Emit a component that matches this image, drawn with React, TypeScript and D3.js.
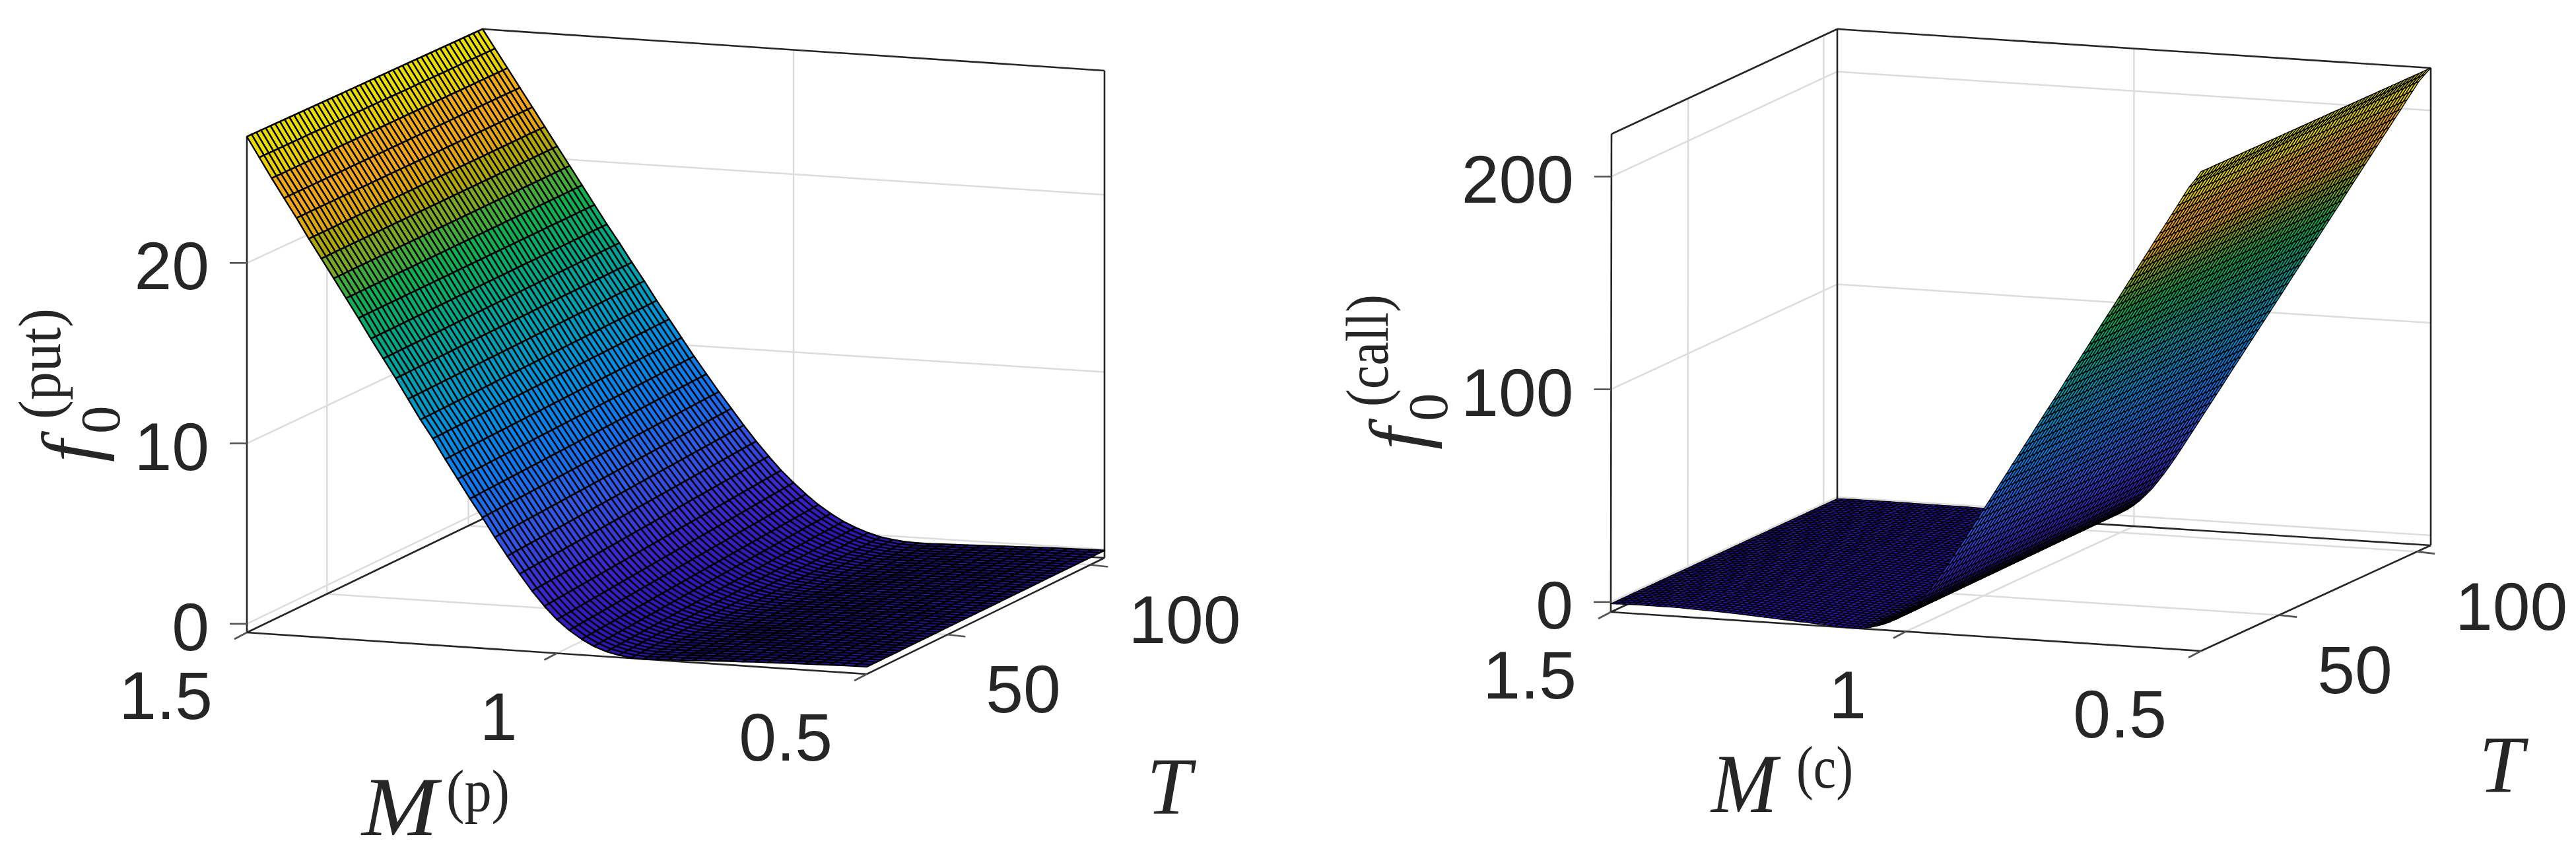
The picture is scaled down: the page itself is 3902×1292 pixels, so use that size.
import React from "react"
import * as d3 from "d3"

// values read off the two edges of each surface that can be seen: the row at the
// near end of T and the row at the far end, one number per M grid line, M going 1.5 -> 0.5
const putNear = [
  27, 25.9, 24.8, 23.75, 22.7, 21.6, 20.55, 19.5, 18.45, 17.4,
  16.3, 15.25, 14.2, 13.1, 12, 11, 9.9, 8.85, 7.8, 6.8,
  5.75, 4.75, 3.8, 2.9, 2.1, 1.4, 0.85, 0.4, 0.05, -0.2,
  -0.35, -0.45, -0.48, -0.45, -0.42, -0.4, -0.36, -0.33, -0.3, -0.27,
  -0.25, -0.22, -0.2, -0.18, -0.16, -0.14, -0.12, -0.1, -0.09, -0.08, -0.07,
]
const putFar = [
  27, 25.95, 24.9, 23.85, 22.8, 21.75, 20.7, 19.65, 18.6, 17.55,
  16.5, 15.5, 14.45, 13.45, 12.4, 11.4, 10.4, 9.4, 8.45, 7.5,
  6.6, 5.7, 4.85, 4.05, 3.3, 2.65, 2.05, 1.5, 1.05, 0.65,
  0.35, 0.1, -0.1, -0.2, -0.28, -0.3, -0.3, -0.28, -0.26, -0.24,
  -0.22, -0.2, -0.18, -0.16, -0.14, -0.12, -0.1, -0.09, -0.08, -0.07, -0.06,
]
const callNear = [
  -0.8, -0.7, -0.6, -0.6, -0.5, -0.5, -0.5, -0.5, -0.5, -0.5,
  -0.5, -0.5, -0.6, -0.7, -0.8, -0.9, -1, -1.1, -1.2, -1.3,
  -1.4, -1.6, -1.7, -1.9, -2, -2.2, -2.4, -2.5, -2.7, -2.9,
  -3, -3.2, -3.4, -3.5, -3.7, -3.9, -4, -4.2, -4.3, -4.5,
  -4.6, -4.7, -4.6, -4.3, -3.8, -3.1, -2.2, -1.1, 0.3, 2,
  4, 6.3, 9, 12, 15.5, 19.3, 23.4, 27.6, 32, 36.4,
  40.8, 45.3, 49.8, 54.3, 58.8, 63.3, 67.8, 72.3, 76.9, 81.4,
  85.9, 90.4, 95, 99.5, 104, 108.5, 113, 117.6, 122.1, 126.6,
  131.1, 135.6, 140.2, 144.7, 149.2, 153.7, 158.2, 162.8, 167.3, 171.8,
  176.3, 180.8, 185.4, 189.9, 194.4, 198.9, 203.4, 208, 212.5, 216, 220,
]
const callFar = [
  -0.8, -0.7, -0.7, -0.6, -0.6, -0.6, -0.6, -0.6, -0.6, -0.6,
  -0.6, -0.6, -0.6, -0.7, -0.7, -0.7, -0.7, -0.7, -0.7, -0.7,
  -0.7, -0.7, -0.7, -0.8, -0.8, -0.8, -0.8, -0.9, -0.9, -0.9,
  -1, -1, -1.1, -1.2, -1.2, -1.3, -1.4, -1.4, -1.5, -1.6,
  -1.6, -1.6, -1.5, -1.4, -1.1, -0.8, -0.3, 0.5, 1.6, 3.2,
  5.2, 7.6, 10.4, 13.4, 17, 20.7, 24.7, 28.9, 33.3, 37.8,
  42.3, 46.8, 51.3, 55.8, 60.3, 64.8, 69.3, 73.8, 78.3, 82.8,
  87.3, 91.8, 96.3, 100.8, 105.3, 109.8, 114.3, 118.8, 123.3, 127.8,
  132.3, 136.8, 141.3, 145.8, 150.3, 154.8, 159.3, 163.8, 168.3, 172.8,
  177.3, 181.8, 186.3, 190.8, 195.3, 199.8, 204.3, 208.8, 213.3, 216.8, 220,
]

const mTicks = [1.5, 1, 0.5]
const tTicks = [50, 100]
const putZTicks = [0, 10, 20]
const callZTicks = [0, 100, 200]
const mDomain = [1.5, 0.5]
const tDomain = [21.7, 105]

const colorStops = [0, 0.04, 0.12, 0.22, 0.32, 0.42, 0.52, 0.6, 0.68, 0.74, 0.8, 0.84, 0.9, 0.94, 1]
const colorValues = ["#2c14b0", "#3018b8", "#3c28d0", "#3058e8", "#0f78f0", "#0090e0", "#00a0b0", "#00a880", "#10b050", "#70a828", "#c0a800", "#f0a418", "#f0a818", "#e8d000", "#e8e400"]

const ink = "#262626"
const gridColor = "#dcdcdc"
const tickFont = "'Liberation Sans', Arial, sans-serif"
const mathFont = "'Liberation Serif', 'Times New Roman', serif"

const color = d3.scaleLinear<string>().domain(colorStops).range(colorValues).clamp(true)
const pathOf = d3.line<number[]>()
  .x(p => Math.round(p[0] * 10) / 10)
  .y(p => Math.round(p[1] * 10) / 10)

// the box is in a slight perspective, so a point is blended from the 8 corners on screen
function makeProject(c) {
  return (u, v, w) => {
    const pick = k => {
      const floor = (1 - v) * ((1 - u) * c.f00[k] + u * c.f10[k]) + v * ((1 - u) * c.f01[k] + u * c.f11[k])
      const top = (1 - v) * ((1 - u) * c.t00[k] + u * c.t10[k]) + v * ((1 - u) * c.t01[k] + u * c.t11[k])
      return (1 - w) * floor + w * top
    }
    return [pick(0), pick(1)]
  }
}

function Surface({ near, far, nT, stroke, zDomain, project }) {
  const uOf = d3.scaleLinear().domain([0, near.length - 1]).range([0, 1])
  const vOf = d3.scaleLinear().domain([0, nT]).range([0, 1])
  const wOf = d3.scaleLinear().domain(zDomain).range([0, 1])
  const zOf = i => d3.scaleLinear().domain([0, 1]).range([near[i], far[i]])

  const cells = []
  // the fine T lines only subdivide the straight span between the two read rows
  for (let i = 0; i < near.length - 1; i++) {
    const a = zOf(i)
    const b = zOf(i + 1)
    for (let j = 0; j < nT; j++) {
      const v0 = vOf(j)
      const v1 = vOf(j + 1)
      const u0 = uOf(i)
      const u1 = uOf(i + 1)
      const zs = [a(v0), b(v0), b(v1), a(v1)]
      const w = d3.mean(zs.map(z => wOf(z)))
      const pts = [
        project(u0, v0, wOf(zs[0])),
        project(u1, v0, wOf(zs[1])),
        project(u1, v1, wOf(zs[2])),
        project(u0, v1, wOf(zs[3])),
      ]
      cells.push({
        key: i + "-" + j,
        d: pathOf(pts) + "Z",
        fill: color(w),
        depth: -318 * (u0 + u1) / 2 + 932 * (v0 + v1) / 2 - 134 * w,
      })
    }
  }
  cells.sort((a, b) => b.depth - a.depth)

  return (
    <g stroke="#000" strokeWidth={stroke} strokeLinejoin="round">
      {cells.map(c => <path key={c.key} d={c.d} fill={c.fill} />)}
    </g>
  )
}

function Panel({ corners, near, far, nT, stroke, zDomain, zTicks, lab }) {
  const project = makeProject(corners)
  const uOf = d3.scaleLinear().domain(mDomain).range([0, 1])
  const vOf = d3.scaleLinear().domain(tDomain).range([0, 1])
  const wOf = d3.scaleLinear().domain(zDomain).range([0, 1])

  const seg = (a, b, props, key) => {
    const p = project(a[0], a[1], a[2])
    const q = project(b[0], b[1], b[2])
    return <line key={key} x1={p[0]} y1={p[1]} x2={q[0]} y2={q[1]} {...props} />
  }
  const gridStyle = { stroke: gridColor, strokeWidth: 2.5 }
  const boxStyle = { stroke: ink, strokeWidth: 2.6 }
  const tickStyle = { stroke: "#555", strokeWidth: 2.6 }

  return (
    <g>
      {/* grid on the left wall, back wall and floor */}
      {zTicks.map(z => (
        <g key={z}>
          {seg([0, 0, wOf(z)], [0, 1, wOf(z)], gridStyle, "l")}
          {seg([0, 1, wOf(z)], [1, 1, wOf(z)], gridStyle, "b")}
        </g>
      ))}
      {tTicks.map(t => (
        <g key={t}>
          {seg([0, vOf(t), 0], [0, vOf(t), 1], gridStyle, "l")}
          {seg([0, vOf(t), 0], [1, vOf(t), 0], gridStyle, "f")}
        </g>
      ))}
      {seg([uOf(1), 1, 0], [uOf(1), 1, 1], gridStyle, "mb")}
      {seg([uOf(1), 0, 0], [uOf(1), 1, 0], gridStyle, "mf")}

      {/* box lines behind the surface */}
      {seg([0, 0, 0], [0, 0, 1], boxStyle, "v1")}
      {seg([0, 1, 0], [0, 1, 1], boxStyle, "v2")}
      {seg([1, 1, 0], [1, 1, 1], boxStyle, "v3")}
      {seg([0, 0, 1], [0, 1, 1], boxStyle, "t1")}
      {seg([0, 1, 1], [1, 1, 1], boxStyle, "t2")}
      {seg([0, 0, 0], [0, 1, 0], boxStyle, "f1")}
      {seg([0, 1, 0], [1, 1, 0], boxStyle, "f2")}
      {seg([0, 0, 0], [1, 0, 0], boxStyle, "f3")}
      {seg([1, 0, 0], [1, 1, 0], boxStyle, "f4")}

      <Surface near={near} far={far} nT={nT} stroke={stroke} zDomain={zDomain} project={project} />

      {/* ticks and their labels */}
      <g fontFamily={tickFont} fontSize={102} fill={ink}>
        {zTicks.map(z => {
          const p = project(0, 0, wOf(z))
          return (
            <g key={z}>
              <line x1={p[0] - 26} y1={p[1]} x2={p[0]} y2={p[1]} {...tickStyle} />
              <text x={p[0] - 57} y={p[1] + 40} textAnchor="end">{z}</text>
            </g>
          )
        })}
        {mTicks.map(m => {
          const p = project(uOf(m), 0, 0)
          return (
            <g key={m}>
              <line x1={p[0]} y1={p[1]} x2={p[0] - 19} y2={p[1] + 10} {...tickStyle} />
              <text x={p[0] - (m === 1 ? 60 : 52)} y={p[1] + 131} textAnchor="end">{m}</text>
            </g>
          )
        })}
        {tTicks.map(t => {
          const p = project(1, vOf(t), 0)
          return (
            <g key={t}>
              <line x1={p[0]} y1={p[1]} x2={p[0] + 27} y2={p[1] + 3} {...tickStyle} />
              <text x={p[0] + 58} y={p[1] + 118}>{t}</text>
            </g>
          )
        })}
      </g>

      {/* math labels */}
      <g fontFamily={mathFont} fill={ink}>
        <g transform={`translate(${lab.fx},${lab.fy}) rotate(-90)`}>
          <text fontSize={120} fontStyle="italic">f</text>
          <text fontSize={85} x={43} y={34}>0</text>
          <text fontSize={92} x={65} y={-56} textLength={lab.fSupLen} lengthAdjust="spacingAndGlyphs">{lab.fSup}</text>
        </g>
        <text fontSize={126} fontStyle="italic" x={lab.mx} y={lab.my} textLength={lab.mLen} lengthAdjust="spacingAndGlyphs">M</text>
        <text fontSize={92} x={lab.supX} y={lab.supY} textLength={lab.supLen} lengthAdjust="spacingAndGlyphs">{lab.mSup}</text>
        <text fontSize={122} fontStyle="italic" x={lab.tx} y={lab.ty}>T</text>
      </g>
    </g>
  )
}

const putCorners = {
  f00: [374, 958], f10: [1313, 1021], f01: [731, 786], f11: [1673, 845],
  t00: [374, 207], t10: [1313, 279], t01: [731, 44], t11: [1673, 107],
}
const callCorners = {
  f00: [2440, 927], f10: [3334, 986], f01: [2783, 768], f11: [3682, 826],
  t00: [2441, 203], t10: [3334, 260], t01: [2783, 44], t11: [3682, 103],
}
const putLabels = { fx: 147, fy: 700, fSup: "(put)", fSupLen: 168, mx: 548, my: 1265, mLen: 115, supX: 676, supY: 1229, mSup: "(p)", supLen: 96, tx: 1737, ty: 1232 }
const callLabels = { fx: 2158, fy: 681, fSup: "(call)", fSupLen: 170, mx: 2592, my: 1230, mLen: 100, supX: 2721, supY: 1193, mSup: "(c)", supLen: 86, tx: 3755, ty: 1199 }

export default function App() {
  return (
    <svg width={3902} height={1292} style={{ position: "absolute", left: 0, top: 0, background: "#fff" }}>
      <Panel corners={putCorners} near={putNear} far={putFar} nT={50} stroke={2.4}
        zDomain={[-0.48, 27]} zTicks={putZTicks} lab={putLabels} />
      <Panel corners={callCorners} near={callNear} far={callFar} nT={60} stroke={1.4}
        zDomain={[-4.7, 220]} zTicks={callZTicks} lab={callLabels} />
    </svg>
  )
}
